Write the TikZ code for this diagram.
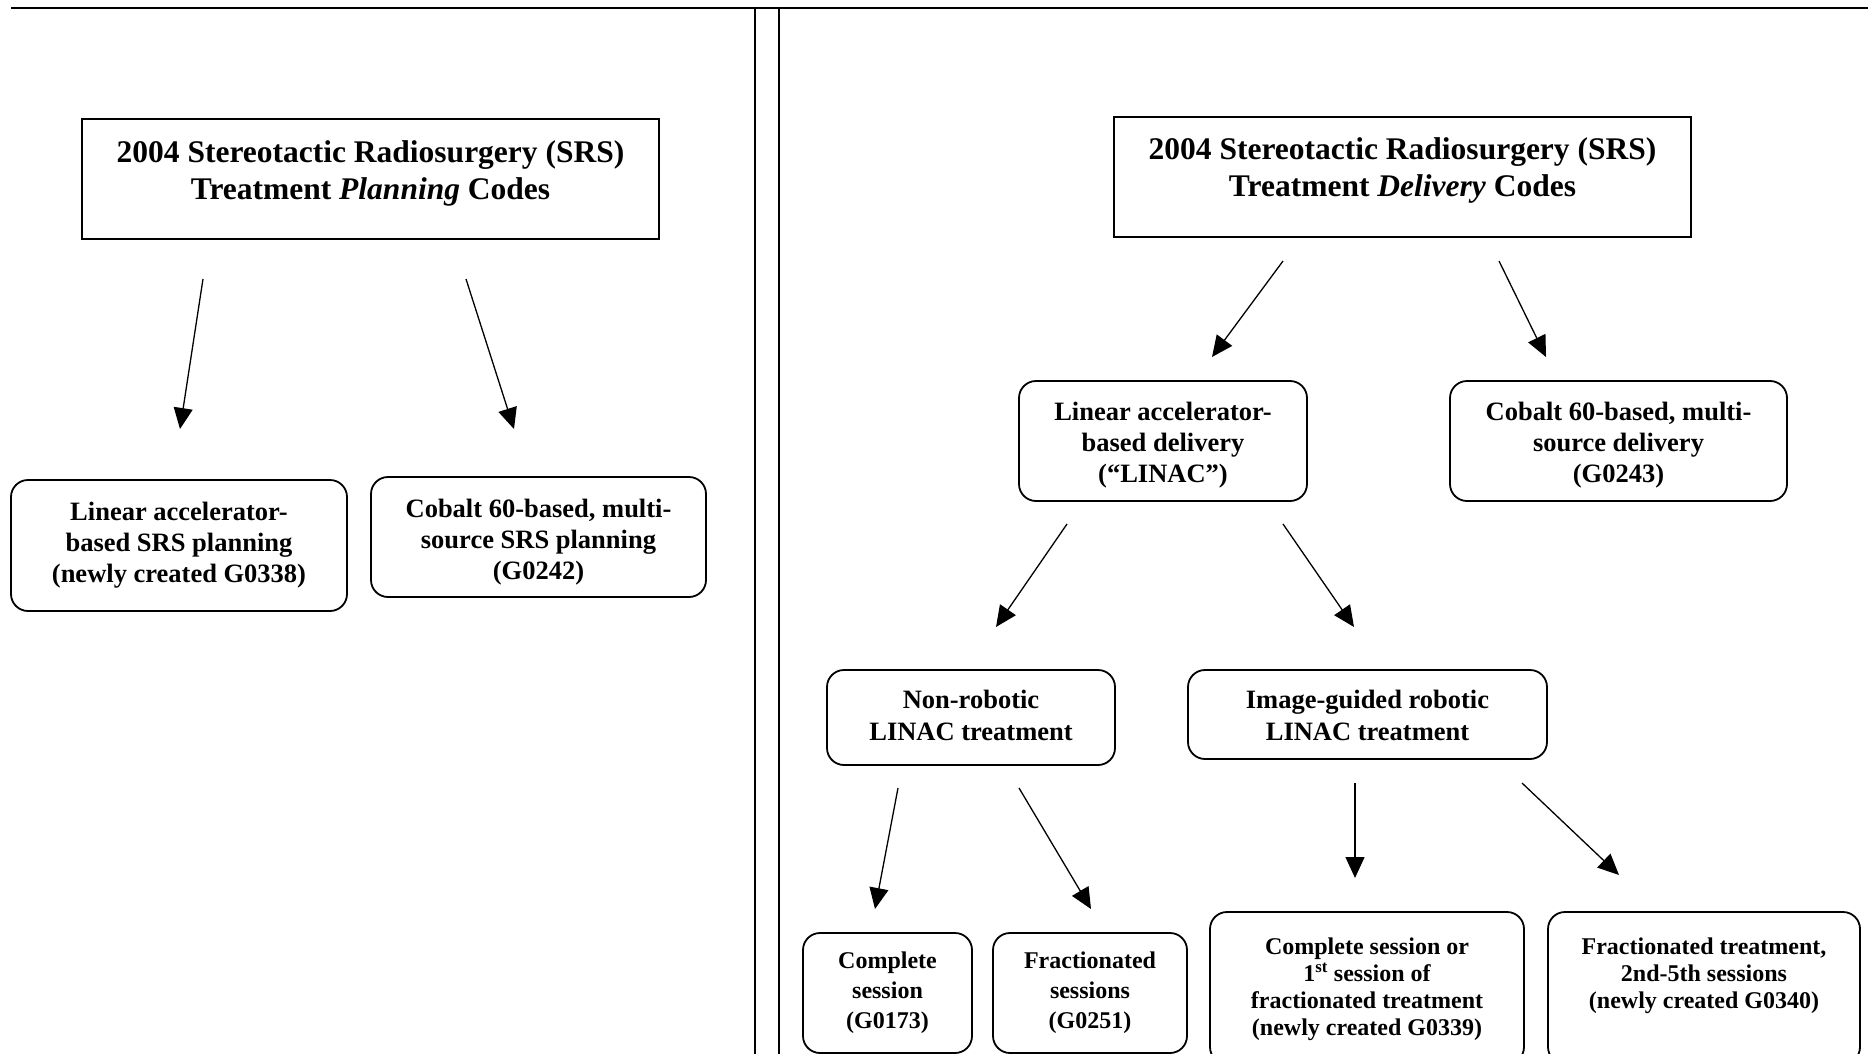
\documentclass[tikz,border=0pt]{standalone}
\usepackage{fontspec}
\setmainfont{Liberation Serif}
\usetikzlibrary{arrows.meta}
\begin{document}
\begin{tikzpicture}[x=1pt,y=-1pt,
  tbox/.style={draw,line width=1.6pt,inner sep=0pt},
  ttext/.style={align=center,inner sep=0pt,font=\bfseries\fontsize{31.5}{37}\selectfont},
  rbox/.style={draw,line width=1.8pt,rounded corners=17pt,inner sep=0pt,align=center,
    font=\bfseries\fontsize{26.5}{31}\selectfont},
  btxt/.style={align=center,inner sep=0pt,font=\bfseries\fontsize{26.5}{31}\selectfont},
  twotxt/.style={align=center,inner sep=0pt,font=\bfseries\fontsize{26.5}{32}\selectfont},
  sbox/.style={rbox,font=\bfseries\fontsize{24}{30}\selectfont},
  btext/.style={align=center,inner sep=0pt,anchor=north,font=\bfseries\fontsize{24}{27}\selectfont},
  arr/.style={-{Triangle[length=21pt,width=19pt]},line width=1.3pt},
  frame/.style={line width=1.7pt}]
\useasboundingbox (0,0) rectangle (1868,1054);
\clip (0,0) rectangle (1868,1054);
% frame lines
\coordinate (topL) at (11,8);
\coordinate (topR) at (1868,8);
\coordinate (v1t) at (755,8);
\coordinate (v1b) at (755,1054);
\coordinate (v2t) at (779,8);
\coordinate (v2b) at (779,1054);
\draw[line width=2pt] (topL) -- (topR);
\draw[frame] (v1t) -- (v1b);
\draw[frame] (v2t) -- (v2b);

% ---------- left panel ----------
\node[tbox,minimum width=577pt,minimum height=120pt] (ptitle) at (370.5,179) {};
\node[ttext] (ptitletext) at (370.5,173) {2004 Stereotactic Radiosurgery (SRS)\\Treatment \textit{Planning} Codes};

\node[rbox,minimum width=336pt,minimum height=131pt] (plin) at (179,545.5)
  {Linear accelerator-\\based SRS planning\\(newly created G0338)};
\node[rbox,minimum width=335pt,minimum height=120pt] (pcob) at (538.5,537) {};
\node[btxt] (pcobtext) at (538.5,542)
  {Cobalt 60-based, multi-\\source SRS planning\\(G0242)};

\coordinate (a1s) at (203,279);  \coordinate (a1e) at (180,429);
\coordinate (a2s) at (466,279);  \coordinate (a2e) at (514,429);
\draw[arr] (a1s) -- (a1e);
\draw[arr] (a2s) -- (a2e);

% ---------- right panel ----------
\node[tbox,minimum width=577pt,minimum height=120pt] (dtitle) at (1402.5,177) {};
\node[ttext] (dtitletext) at (1402.5,170) {2004 Stereotactic Radiosurgery (SRS)\\Treatment \textit{Delivery} Codes};

\node[rbox,minimum width=288pt,minimum height=120pt] (linac) at (1163,441) {};
\node[btxt] (linactext) at (1163,445.5)
  {Linear accelerator-\\based delivery\\(“LINAC”)};
\node[rbox,minimum width=337pt,minimum height=120pt] (dcob) at (1618.5,441) {};
\node[btxt] (dcobtext) at (1618.5,445.5)
  {Cobalt 60-based, multi-\\source delivery\\(G0243)};

\node[rbox,minimum width=288pt,minimum height=95pt] (nonrob) at (971,717.5) {};
\node[twotxt] (nonrobtext) at (971,715)
  {Non-robotic\\LINAC treatment};
\node[rbox,minimum width=359pt,minimum height=89pt] (robot) at (1367.5,714.5) {};
\node[twotxt] (robottext) at (1367.5,715)
  {Image-guided robotic\\LINAC treatment};

\node[sbox,minimum width=169pt,minimum height=120pt] (compl) at (887.5,993)
  {Complete\\session\\(G0173)};
\node[sbox,minimum width=194pt,minimum height=120pt] (fract) at (1090,993)
  {Fractionated\\sessions\\(G0251)};

\node[rbox,minimum width=314pt,minimum height=152pt] (rcompl) at (1367,988) {};
\node[btext] (rcompltext) at (1367,938)
  {Complete session or\\1\textsuperscript{st} session of\\fractionated treatment\\(newly created G0339)};
\node[rbox,minimum width=312pt,minimum height=152pt] (rfract) at (1704,988) {};
\node[btext] (rfracttext) at (1704,938)
  {Fractionated treatment,\\2nd-5th sessions\\(newly created G0340)};

\coordinate (a3s) at (1283,261);  \coordinate (a3e) at (1212,357);
\coordinate (a4s) at (1499,261);  \coordinate (a4e) at (1546,357);
\coordinate (a5s) at (1067,524);  \coordinate (a5e) at (996,627);
\coordinate (a6s) at (1283,524);  \coordinate (a6e) at (1354,627);
\coordinate (a7s) at (898,788);   \coordinate (a7e) at (875,909);
\coordinate (a8s) at (1019,788);  \coordinate (a8e) at (1091,909);
\coordinate (a9s) at (1355,783);  \coordinate (a9e) at (1355,878);
\coordinate (a10s) at (1522,783); \coordinate (a10e) at (1619,875);
\draw[arr] (a3s) -- (a3e);
\draw[arr] (a4s) -- (a4e);
\draw[arr] (a5s) -- (a5e);
\draw[arr] (a6s) -- (a6e);
\draw[arr] (a7s) -- (a7e);
\draw[arr] (a8s) -- (a8e);
\draw[arr] (a9s) -- (a9e);
\draw[arr] (a10s) -- (a10e);
\end{tikzpicture}
\end{document}
